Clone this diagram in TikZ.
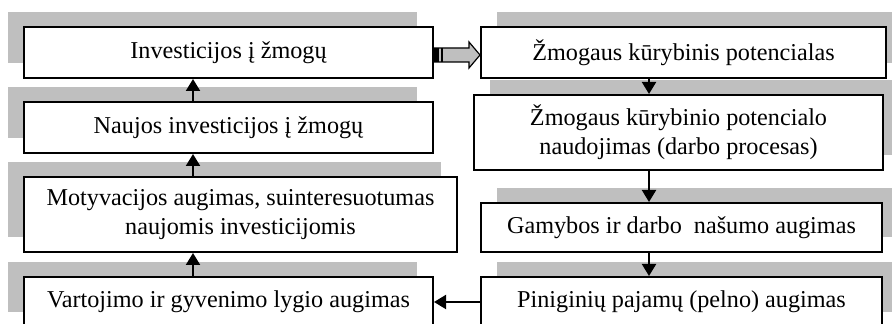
\documentclass[tikz,border=0pt]{standalone}
\usepackage{fontspec}
\setmainfont{Liberation Serif}
\usetikzlibrary{arrows.meta,positioning,shadows,calc}

\begin{document}
\begin{tikzpicture}[
  x=0.5pt, y=-0.5pt,
  every node/.style={font=\fontsize{12.1}{14.5}\selectfont},
  box/.style={draw, line width=1pt, fill=white, align=center, inner sep=0pt},
  lshadow/.style={general shadow={fill=black!25, shadow xshift=-8pt, shadow yshift=7.5pt}},
  rshadow/.style={general shadow={fill=black!25, shadow xshift=8pt, shadow yshift=7.5pt}},
  >={Triangle[length=6pt,width=7pt]}
]
  \useasboundingbox (0,0) rectangle (892,324);
  \clip (0,0) rectangle (892,324);

  % left column
  \node[box, lshadow, minimum width=204.5pt, minimum height=25.5pt] (inv) at (228.5,52.5) {Investicijos į žmogų};
  \node[box, lshadow, minimum width=204.5pt, minimum height=25.5pt] (naujos) at (228.5,127.5) {Naujos investicijos į žmogų};
  \node[box, lshadow, minimum width=216.5pt, minimum height=37.5pt] (motyv) at (240.5,214.5) {Motyvacijos augimas, suinteresuotumas\\naujomis investicijomis};
  \node[box, lshadow, minimum width=204.5pt, minimum height=25pt] (vart) at (228.5,302) {Vartojimo ir gyvenimo lygio augimas};

  % right column
  \node[box, rshadow, minimum width=202.5pt, minimum height=25.5pt] (potenc) at (683.5,52.5) {Žmogaus kūrybinis potencialas};
  \node[box, rshadow, minimum width=204.5pt, minimum height=37.5pt] (naudoj) at (678.5,132.5) {Žmogaus kūrybinio potencialo\\naudojimas (darbo procesas)};
  \node[box, rshadow, minimum width=200.5pt, minimum height=24.5pt] (gamyb) at (681.5,227.5) {Gamybos ir darbo~ našumo augimas};
  \node[box, rshadow, minimum width=200.5pt, minimum height=25pt] (pinig) at (681.5,302) {Piniginių pajamų (pelno) augimas};

  \coordinate (lx) at (193,0);
  \coordinate (rx) at (649,0);

  % connectors
  \draw[->, line width=1pt] (naujos.north -| lx) -- (inv.south -| lx);
  \draw[->, line width=1pt] (motyv.north -| lx) -- (naujos.south -| lx);
  \draw[->, line width=1pt] (vart.north -| lx) -- (motyv.south -| lx);
  \draw[->, line width=1pt] (potenc.south -| rx) -- (naudoj.north -| rx);
  \draw[->, line width=1pt] (naudoj.south -| rx) -- (gamyb.north -| rx);
  \draw[->, line width=1pt] (gamyb.south -| rx) -- (pinig.north -| rx);
  \draw[->, line width=1pt] (pinig.west) -- (vart.east);

  % block arrow
  \draw[line width=0.6pt, fill=black!25] ($(inv.east)+(0,-4.5)$) -- ($(potenc.west)+(-11,-4.5)$)
    -- ($(potenc.west)+(-11,-10.5)$) -- ($(potenc.west)+(0,2.5)$) -- ($(potenc.west)+(-11,15.5)$)
    -- ($(potenc.west)+(-11,9.5)$) -- ($(inv.east)+(0,9.5)$) -- cycle;
  \fill ($(inv.east)+(0,-4.5)$) rectangle ($(inv.east)+(5,9.5)$);
  \draw[line width=0.8pt] ($(inv.east)+(8,-4.5)$) -- ($(inv.east)+(8,9.5)$);
\end{tikzpicture}
\end{document}
